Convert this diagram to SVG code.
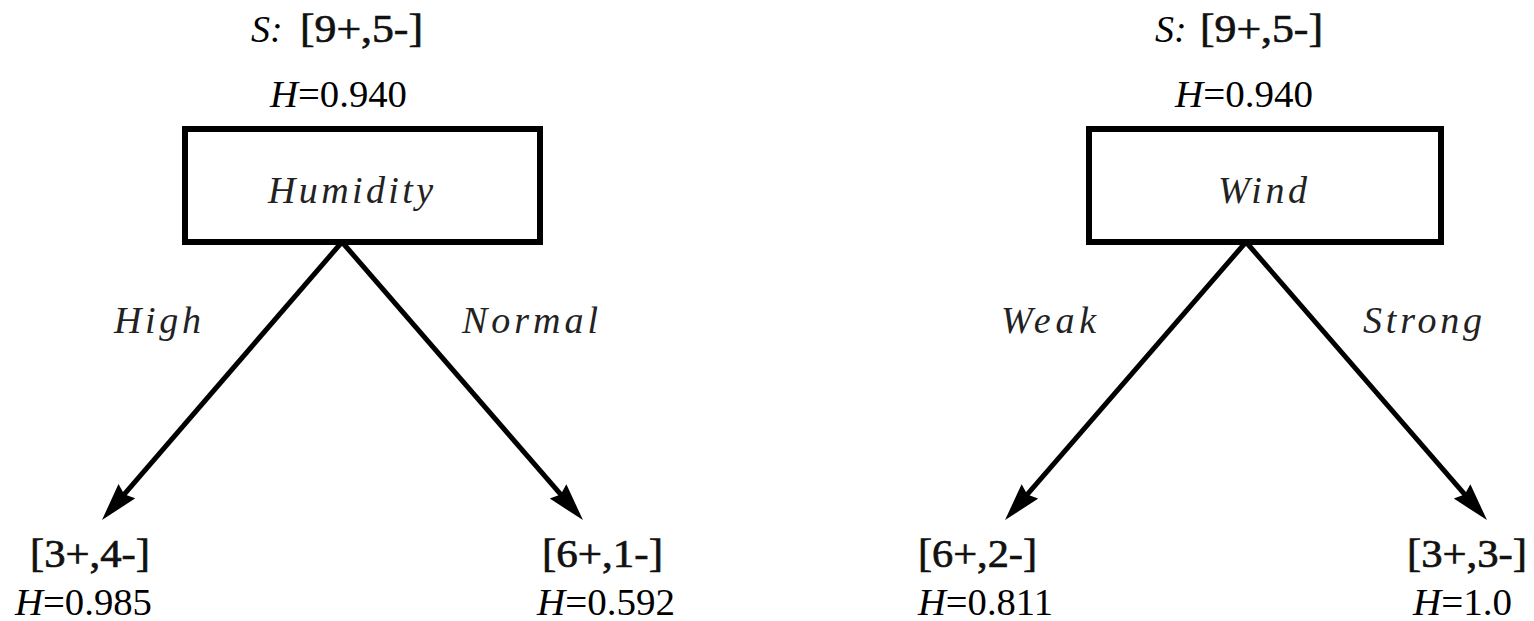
<svg xmlns="http://www.w3.org/2000/svg" width="1534" height="621" viewBox="0 0 1534 621" font-family="Liberation Serif, serif">
<style>
.box{fill:#fff;stroke:#000;stroke-width:6}
.edge{stroke:#000;stroke-width:5;fill:none;marker-end:url(#arr)}
.num{font-size:40px;fill:#111;stroke:#111;stroke-width:0.7}
.h{font-size:38px;fill:#000}
.it{font-style:italic}
.lab{font-style:italic;font-size:38px;fill:#222}
</style>
<defs>
<marker id="arr" markerUnits="userSpaceOnUse" markerWidth="40" markerHeight="24" refX="8" refY="11" orient="auto">
<path d="M0,0 L38,11 L0,22 L4,11 z" fill="#000"/>
</marker>
</defs>
<g id="connectors">
<line class="edge" x1="342" y1="242" x2="121.6" y2="497.3"/>
<line class="edge" x1="342" y1="242" x2="563.3" y2="497.4"/>
<line class="edge" x1="1246" y1="242" x2="1024.7" y2="497.4"/>
<line class="edge" x1="1246" y1="242" x2="1467.3" y2="497.4"/>
</g>
<g id="humidity">
<text class="h it" x="251" y="42" font-size="40">S:</text>
<text class="num" x="300" y="42" textLength="123" lengthAdjust="spacingAndGlyphs">[9+,5-]</text>
<text class="h" x="270" y="107" textLength="137" lengthAdjust="spacingAndGlyphs"><tspan class="it">H</tspan>=0.940</text>
<rect class="box" x="185" y="129" width="355" height="113"/>
<text class="lab" x="268" y="203" textLength="165" lengthAdjust="spacing">Humidity</text>
</g>
<g id="label-high"><text class="lab" x="114" y="333" textLength="87" lengthAdjust="spacing">High</text></g>
<g id="label-normal"><text class="lab" x="462" y="333" textLength="136" lengthAdjust="spacing">Normal</text></g>
<g id="leaf-high">
<text class="num" x="30" y="567" textLength="120" lengthAdjust="spacingAndGlyphs">[3+,4-]</text>
<text class="h" x="15" y="615" textLength="137" lengthAdjust="spacingAndGlyphs"><tspan class="it">H</tspan>=0.985</text>
</g>
<g id="leaf-normal">
<text class="num" x="542" y="567" textLength="121" lengthAdjust="spacingAndGlyphs">[6+,1-]</text>
<text class="h" x="537" y="615" textLength="138" lengthAdjust="spacingAndGlyphs"><tspan class="it">H</tspan>=0.592</text>
</g>
<g id="wind">
<text class="h it" x="1155" y="42" font-size="40">S:</text>
<text class="num" x="1200" y="42" textLength="123" lengthAdjust="spacingAndGlyphs">[9+,5-]</text>
<text class="h" x="1175" y="107" textLength="138" lengthAdjust="spacingAndGlyphs"><tspan class="it">H</tspan>=0.940</text>
<rect class="box" x="1089" y="129" width="352" height="113"/>
<text class="lab" x="1218" y="203" textLength="89" lengthAdjust="spacing">Wind</text>
</g>
<g id="label-weak"><text class="lab" x="1001" y="333" textLength="95" lengthAdjust="spacing">Weak</text></g>
<g id="label-strong"><text class="lab" x="1363" y="333" textLength="119" lengthAdjust="spacing">Strong</text></g>
<g id="leaf-weak">
<text class="num" x="918" y="567" textLength="119" lengthAdjust="spacingAndGlyphs">[6+,2-]</text>
<text class="h" x="918" y="615" textLength="135" lengthAdjust="spacingAndGlyphs"><tspan class="it">H</tspan>=0.811</text>
</g>
<g id="leaf-strong">
<text class="num" x="1407" y="567" textLength="120" lengthAdjust="spacingAndGlyphs">[3+,3-]</text>
<text class="h" x="1413" y="615" textLength="99" lengthAdjust="spacingAndGlyphs"><tspan class="it">H</tspan>=1.0</text>
</g>
</svg>
